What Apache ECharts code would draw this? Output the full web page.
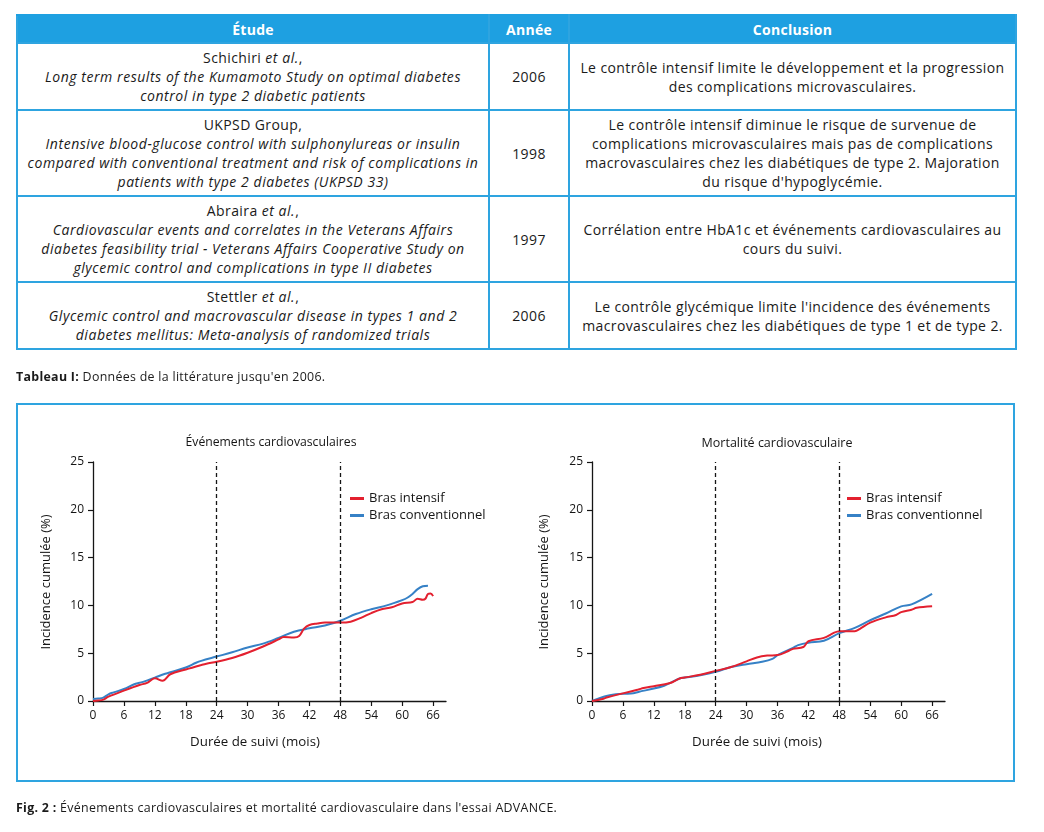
<!DOCTYPE html>
<html><head><meta charset="utf-8">
<script src="https://cdn.jsdelivr.net/npm/echarts@6/dist/echarts.min.js"></script>
<style>
html,body{margin:0;padding:0;background:#fff;}
body{font-family:"Open Sans",Roboto,sans-serif;color:#1a1a1a;width:1044px;height:832px;position:relative;overflow:hidden;}
#tbl{position:absolute;left:16px;top:14px;width:999px;border-collapse:collapse;table-layout:fixed;font-size:14px;line-height:19px;z-index:3;background:#fff;letter-spacing:0.4px;}
#tbl i{letter-spacing:0.55px;}
#tbl th{background:#1ea0e1;color:#fff;font-weight:700;height:26px;border:2px solid #2ea4e0;border-top-color:#1ea0e1;padding:0;letter-spacing:0.3px;}
#tbl th + th{border-left:2px solid #fff;}
#tbl td{border:2px solid #2ea4e0;text-align:center;vertical-align:middle;padding:0;}
.cap{position:absolute;left:16px;font-size:12.4px;color:#1a1a1a;z-index:3;letter-spacing:0.3px;}
#box{position:absolute;left:16px;top:403px;width:999px;height:379px;box-sizing:border-box;border:2px solid #2ea4e0;z-index:1;}
#chart{position:absolute;left:0;top:0;width:1044px;height:832px;z-index:2;}
</style>
</head><body>
<table id="tbl"><colgroup><col style="width:472px"><col style="width:80px"><col style="width:447px"></colgroup>
<thead><tr id="hdr"></tr></thead><tbody id="tb"></tbody></table>
<div class="cap" style="top:368px"><b>Tableau I:</b> Données de la littérature jusqu'en 2006.</div>
<div id="box"></div>
<div id="chart"></div>
<div class="cap" style="top:799px"><b>Fig. 2 :</b> Événements cardiovasculaires et mortalité cardiovasculaire dans l'essai ADVANCE.</div>
<script>
// ---- Table data ----
const tableHeaders = ['Étude', 'Année', 'Conclusion'];
const studyAuthors = ['Schichiri', 'UKPSD Group,', 'Abraira', 'Stettler'];
const studyEtAl = [true, false, true, true];
const studyTitles = [
  ['Long term results of the Kumamoto Study on optimal diabetes', 'control in type 2 diabetic patients'],
  ['Intensive blood-glucose control with sulphonylureas or insulin', 'compared with conventional treatment and risk of complications in', 'patients with type 2 diabetes (UKPSD 33)'],
  ['Cardiovascular events and correlates in the Veterans Affairs', 'diabetes feasibility trial - Veterans Affairs Cooperative Study on', 'glycemic control and complications in type II diabetes'],
  ['Glycemic control and macrovascular disease in types 1 and 2', 'diabetes mellitus: Meta-analysis of randomized trials']
];
const studyYears = ['2006', '1998', '1997', '2006'];
const studyConclusions = [
  ['Le contrôle intensif limite le développement et la progression', 'des complications microvasculaires.'],
  ['Le contrôle intensif diminue le risque de survenue de', 'complications microvasculaires mais pas de complications', 'macrovasculaires chez les diabétiques de type 2. Majoration', 'du risque d\'hypoglycémie.'],
  ['Corrélation entre HbA1c et événements cardiovasculaires au', 'cours du suivi.'],
  ['Le contrôle glycémique limite l\'incidence des événements', 'macrovasculaires chez les diabétiques de type 1 et de type 2.']
];
const rowHeights = [67, 86, 86, 67];

// ---- Chart data ----
const seriesNames = ['Bras intensif', 'Bras conventionnel'];
const chartTitles = ['Événements cardiovasculaires', 'Mortalité cardiovasculaire'];
const yAxisTitle = 'Incidence cumulée (%)';
const xAxisTitle = 'Durée de suivi (mois)';
const xTicks = [0, 6, 12, 18, 24, 30, 36, 42, 48, 54, 60, 66];
const yTicks = [0, 5, 10, 15, 20, 25];
const cutoffMonths = [24, 48];

const evtIntMonths = [0, 1, 2, 3, 6, 9, 10.5, 12, 13.5, 15, 18, 21, 22, 24, 27, 30, 33, 36, 37, 39, 40, 41, 42, 43.5, 45, 48, 50, 52, 54, 56, 58, 60, 62, 63, 64, 64.5, 65, 65.5, 66];
const evtIntValues = [0, 0.05, 0.15, 0.45, 1.08, 1.67, 1.9, 2.37, 2.12, 2.8, 3.3, 3.76, 3.9, 4.1, 4.5, 5.05, 5.7, 6.44, 6.7, 6.65, 6.8, 7.6, 7.95, 8.1, 8.2, 8.2, 8.3, 8.7, 9.2, 9.6, 9.8, 10.2, 10.35, 10.7, 10.6, 10.7, 11.2, 11.25, 10.97];
const evtConvMonths = [0, 1, 2, 3, 4, 6, 8, 9, 10, 12, 14, 15, 18, 20, 21, 24, 27, 30, 33, 36, 39, 42, 45, 48, 51, 54, 57, 60, 61, 62, 63, 64, 65];
const evtConvValues = [0.2, 0.25, 0.35, 0.7, 0.9, 1.25, 1.75, 1.9, 2.05, 2.45, 2.85, 3.0, 3.5, 4.0, 4.2, 4.65, 5.1, 5.6, 6.0, 6.6, 7.25, 7.6, 7.9, 8.4, 9.1, 9.6, 10.0, 10.55, 10.8, 11.2, 11.7, 12.0, 12.05];

const mortIntMonths = [0, 2, 3, 6, 9, 10, 12, 15, 17, 18, 21, 24, 27, 30, 32, 34, 36, 38, 39, 41, 42, 45, 47, 48, 51, 52, 54, 57, 59, 60, 62, 63, 66];
const mortIntValues = [0, 0.2, 0.4, 0.8, 1.2, 1.35, 1.55, 1.85, 2.35, 2.45, 2.75, 3.15, 3.55, 4.15, 4.55, 4.75, 4.8, 5.2, 5.45, 5.65, 6.25, 6.6, 7.15, 7.3, 7.3, 7.55, 8.2, 8.75, 9.0, 9.3, 9.55, 9.75, 9.9];
const mortConvMonths = [0, 3, 6, 8, 9, 12, 14, 15, 17, 18, 21, 24, 27, 30, 33, 35, 36, 39, 40, 42, 45, 48, 51, 54, 57, 60, 62, 66];
const mortConvValues = [0, 0.55, 0.75, 0.8, 0.95, 1.3, 1.6, 1.85, 2.35, 2.45, 2.7, 3.05, 3.55, 3.85, 4.1, 4.4, 4.8, 5.55, 5.85, 6.1, 6.3, 7.1, 7.65, 8.45, 9.15, 9.9, 10.1, 11.2];

// ---- Build table ----
const hdr = document.getElementById('hdr');
tableHeaders.forEach(h => { const th = document.createElement('th'); th.textContent = h; hdr.appendChild(th); });
const tb = document.getElementById('tb');
studyAuthors.forEach((a, i) => {
  const tr = document.createElement('tr');
  tr.style.height = rowHeights[i] + 'px';
  const c1 = document.createElement('td');
  c1.innerHTML = a + (studyEtAl[i] ? ' <i>et al.</i>,' : '') + '<br>' + studyTitles[i].map(t => '<i>' + t + '</i>').join('<br>');
  const c2 = document.createElement('td'); c2.textContent = studyYears[i];
  const c3 = document.createElement('td'); c3.innerHTML = studyConclusions[i].join('<br>');
  tr.appendChild(c1); tr.appendChild(c2); tr.appendChild(c3);
  tb.appendChild(tr);
});

// ---- Build charts ----
const RED = '#e3202f', BLUE = '#3681c6', INK = '#151515';
const FONT = '"Open Sans"';
const zip = (xs, ys) => xs.map((x, i) => [x, ys[i]]);
const grids = [
  {left: 93, top: 462, width: 353, height: 239},
  {left: 592, top: 462, width: 353, height: 239}
];
function xAx(i) {
  return {type: 'value', gridIndex: i, min: 0, max: 68.5, interval: 6,
    splitLine: {show: false},
    axisLine: {show: true, lineStyle: {color: INK, width: 1.3}},
    axisTick: {show: true, length: 5, customValues: xTicks, lineStyle: {color: INK, width: 1.2}},
    axisLabel: {customValues: xTicks, color: INK, fontSize: 12, margin: 9, fontFamily: FONT,
      formatter: v => (xTicks.indexOf(v) >= 0 ? String(v) : '')}};
}
function yAx(i) {
  return {type: 'value', gridIndex: i, min: 0, max: 25, interval: 5,
    splitLine: {show: false},
    axisLine: {show: true, lineStyle: {color: INK, width: 1.3}},
    axisTick: {show: true, length: 5, lineStyle: {color: INK, width: 1.2}},
    axisLabel: {color: INK, fontSize: 12, margin: 9, fontFamily: FONT}};
}
const markDash = {silent: true, symbol: ['none', 'none'], label: {show: false},
  lineStyle: {type: [4, 3], color: INK, width: 1.3}, data: cutoffMonths.map(m => ({xAxis: m}))};
function lineSeries(name, color, data, gi, withMark) {
  const s = {name, type: 'line', xAxisIndex: gi, yAxisIndex: gi, data, showSymbol: false, symbol: 'none',
    smooth: 0.35, lineStyle: {color, width: 2}, itemStyle: {color}, z: 3, animation: false};
  if (withMark) s.markLine = markDash;
  return s;
}
const chart = echarts.init(document.getElementById('chart'), null, {renderer: 'canvas'});
const txt = (x, y, t, size, rot) => ({type: 'text', x, y, rotation: rot || 0,
  style: {text: t, fill: INK, font: size + 'px ' + FONT, align: 'center', verticalAlign: 'middle'}});
const legendBase = {top: 492, orient: 'vertical', itemGap: 4, itemWidth: 14, itemHeight: 3, icon: 'rect', padding: 0,
  textStyle: {color: INK, fontSize: 13, fontFamily: FONT}, data: seriesNames};
chart.setOption({
  animation: false,
  backgroundColor: 'transparent',
  grid: grids,
  xAxis: [xAx(0), xAx(1)],
  yAxis: [yAx(0), yAx(1)],
  legend: [
    Object.assign({left: 350}, legendBase),
    Object.assign({left: 847}, legendBase)
  ],
  graphic: [
    txt(271, 443, chartTitles[0], 12.2),
    txt(777, 443, chartTitles[1], 12.5),
    txt(46, 582, yAxisTitle, 13, Math.PI / 2),
    txt(544, 582, yAxisTitle, 13, Math.PI / 2),
    txt(255, 742, xAxisTitle, 13.3),
    txt(757, 742, xAxisTitle, 13.3)
  ],
  series: [
    lineSeries(seriesNames[1], BLUE, zip(evtConvMonths, evtConvValues), 0, true),
    lineSeries(seriesNames[0], RED, zip(evtIntMonths, evtIntValues), 0, false),
    lineSeries(seriesNames[1], BLUE, zip(mortConvMonths, mortConvValues), 1, true),
    lineSeries(seriesNames[0], RED, zip(mortIntMonths, mortIntValues), 1, false)
  ]
});
</script>
</body></html>
